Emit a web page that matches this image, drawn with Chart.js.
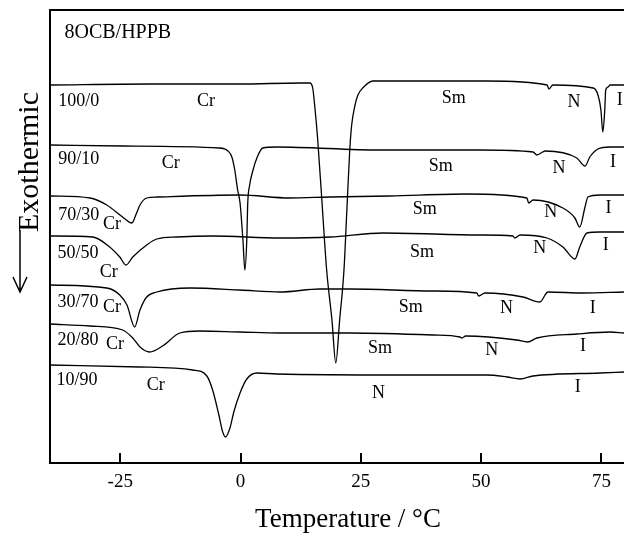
<!DOCTYPE html>
<html>
<head>
<meta charset="utf-8">
<script src="https://cdn.jsdelivr.net/npm/chart.js@4.4.0/dist/chart.umd.min.js"></script>
<style>
  html, body { margin: 0; padding: 0; background: #fff; }
  #wrap { width: 624px; height: 533px; }
</style>
</head>
<body>
<div id="wrap"><canvas id="dsc" width="624" height="533"></canvas></div>
<script>
// DSC heating traces, 8OCB/HPPB mixtures (temperature in degC, signal in arbitrary units, offset per curve)
const tickValues = [-25, 0, 25, 50, 75];

const t100_0 = [-39.6, -18.9, -0.1, 12.3, 14.4, 15.0, 15.4, 16.0, 16.9, 17.9, 19.0, 19.8, 20.6, 21.5, 22.1, 22.7, 23.1, 23.8, 24.4, 25.4, 27.5, 33.1, 51.2, 63.7, 64.1, 64.9, 73.3, 74.3, 74.9, 75.3, 75.7, 75.9, 76.4, 76.8, 79.7];
const s100_0 = [378, 379, 379, 380, 380, 375, 358, 326, 263, 193, 143, 100, 143, 193, 253, 313, 338, 358, 368, 375, 382, 382, 382, 378, 374, 378, 375, 368, 353, 331, 353, 373, 376, 378, 378];

const t90_10 = [-39.6, -24.5, -4.3, -2.6, -1.8, -1.2, -0.6, -0.1, 0.5, 0.9, 1.3, 1.5, 1.9, 2.6, 3.4, 4.6, 7.5, 29.0, 49.8, 60.8, 61.6, 62.8, 63.3, 69.9, 71.6, 72.6, 74.3, 76.8, 79.7];
const s90_10 = [318, 317, 315, 312, 306, 293, 273, 260, 223, 193, 223, 260, 278, 293, 305, 315, 316, 313, 313, 311, 308, 311, 312, 305, 297, 306, 314, 316, 316];

const t70_30 = [-39.6, -31.3, -27.8, -24.5, -22.6, -21.6, -20.9, -19.5, -17.4, -0.1, 10.2, 18.6, 31.0, 47.0, 59.5, 59.9, 60.8, 67.0, 69.5, 70.5, 71.6, 72.2, 74.7, 79.7];
const s70_30 = [267, 265, 258, 246, 240, 250, 258, 265, 266, 268, 265, 266, 267, 269, 265, 260, 263, 255, 245, 236, 256, 266, 268, 268];

const t50_50 = [-39.6, -30.7, -27.2, -25.1, -23.8, -22.4, -19.5, -17.4, -13.2, -5.8, 8.2, 18.6, 29.6, 49.8, 56.6, 57.0, 58.1, 63.7, 67.0, 69.5, 70.5, 72.0, 74.7, 79.7];
const s50_50 = [227, 226, 216, 206, 198, 206, 218, 224, 226, 227, 225, 226, 230, 228, 227, 225, 228, 225, 216, 204, 216, 230, 231, 231];

const t30_70 = [-39.6, -27.8, -25.1, -23.6, -22.0, -20.9, -19.5, -17.4, -10.5, -0.1, 8.2, 16.5, 22.7, 40.0, 49.1, 49.5, 50.8, 58.7, 62.2, 63.9, 71.2, 79.7];
const s30_70 = [178, 175, 168, 158, 136, 153, 166, 171, 175, 173, 171, 174, 174, 172, 170, 167, 170, 166, 161, 171, 170, 171];

const t20_80 = [-39.6, -31.3, -24.5, -22.4, -20.9, -18.9, -16.2, -12.6, -8.5, -0.1, 8.2, 22.7, 40.0, 45.6, 46.0, 46.8, 57.4, 59.7, 61.6, 69.9, 76.8, 79.7];
const s20_80 = [139, 137, 133, 125, 116, 111, 117, 130, 132, 131, 130, 130, 128, 126, 125, 127, 123, 121, 125, 129, 131, 130];

const t10_90 = [-39.6, -20.9, -9.9, -7.0, -5.8, -4.5, -3.7, -3.1, -2.2, -1.4, -0.1, 1.3, 3.4, 7.5, 33.1, 51.2, 55.4, 58.1, 60.8, 74.7, 79.7];
const s10_90 = [98, 96, 93, 87, 73, 48, 31, 26, 35, 51, 70, 84, 90, 89, 88, 88, 86, 84, 87, 90, 91];

// phase labels: text, temperature, signal
const labelText = ["8OCB/HPPB",
  "100/0", "90/10", "70/30", "50/50", "30/70", "20/80", "10/90",
  "Cr", "Cr", "Cr", "Cr", "Cr", "Cr", "Cr",
  "Sm", "Sm", "Sm", "Sm", "Sm", "Sm",
  "N", "N", "N", "N", "N", "N", "N",
  "I", "I", "I", "I", "I", "I", "I"];
const labelT = [-25.5,
  -33.6, -33.6, -33.6, -33.8, -33.8, -33.8, -34.0,
  -7.2, -14.5, -26.7, -27.4, -26.7, -26.1, -17.6,
  44.3, 41.6, 38.3, 37.7, 35.4, 29.0,
  69.3, 66.2, 64.5, 62.2, 55.3, 52.2, 28.7,
  78.8, 77.4, 76.5, 75.9, 73.2, 71.2, 70.1];
const labelS = [430,
  362, 304, 248, 210, 161, 123, 83,
  362, 300, 239, 191, 156, 119, 78,
  365, 297, 254, 211, 156, 115,
  361, 295, 251, 215, 155, 113, 70,
  363, 301, 255, 218, 155, 117, 76];

const serif = "'Liberation Serif', 'DejaVu Serif', serif";

function trace(ts, ss) {
  return {
    data: ts.map((t, i) => ({ x: t, y: ss[i] })),
    borderColor: "#000",
    borderWidth: 1.3,
    pointRadius: 0,
    fill: false,
    cubicInterpolationMode: "monotone"
  };
}

const framePlugin = {
  id: "frame",
  afterDraw(chart) {
    const ctx = chart.ctx;
    const a = chart.chartArea;
    const xs = chart.scales.x;
    const ys = chart.scales.y;
    ctx.save();
    ctx.strokeStyle = "#000";
    ctx.lineWidth = 2;
    ctx.beginPath();
    ctx.moveTo(a.left, a.bottom);
    ctx.lineTo(a.left, a.top);
    ctx.lineTo(a.right, a.top);
    ctx.stroke();
    // inward tick marks
    tickValues.forEach(v => {
      const px = Math.round(xs.getPixelForValue(v));
      ctx.beginPath();
      ctx.moveTo(px, a.bottom);
      ctx.lineTo(px, a.bottom - 10);
      ctx.stroke();
    });

    // phase and composition labels
    ctx.fillStyle = "#000";
    ctx.textAlign = "center";
    ctx.textBaseline = "middle";
    labelText.forEach((txt, i) => {
      ctx.font = (i === 0 ? "20px " : "18px ") + serif;
      ctx.fillText(txt, xs.getPixelForValue(labelT[i]), ys.getPixelForValue(labelS[i]));
    });

    // x axis caption
    ctx.textBaseline = "alphabetic";
    ctx.font = "27px " + serif;
    ctx.fillText("Temperature / °C", 348, 527);

    // y axis caption with arrow
    ctx.textBaseline = "middle";
    ctx.save();
    ctx.translate(30, 162);
    ctx.rotate(-Math.PI / 2);
    ctx.font = "30px " + serif;
    ctx.fillText("Exothermic", 0, 0);
    ctx.restore();
    ctx.lineWidth = 1.5;
    ctx.beginPath();
    ctx.moveTo(20, 230);
    ctx.lineTo(20, 292);
    ctx.moveTo(13, 277);
    ctx.lineTo(20, 292);
    ctx.lineTo(27, 277);
    ctx.stroke();
    ctx.restore();
  }
};

new Chart(document.getElementById("dsc"), {
  type: "line",
  data: {
    datasets: [
      trace(t100_0, s100_0),
      trace(t90_10, s90_10),
      trace(t70_30, s70_30),
      trace(t50_50, s50_50),
      trace(t30_70, s30_70),
      trace(t20_80, s20_80),
      trace(t10_90, s10_90)
    ]
  },
  options: {
    responsive: false,
    animation: false,
    layout: { padding: { left: 50, top: 10, right: 0, bottom: 0 } },
    plugins: { legend: { display: false }, tooltip: { enabled: false } },
    scales: {
      x: {
        type: "linear",
        min: -39.6,
        max: 79.7,
        afterBuildTicks: (scale) => { scale.ticks = tickValues.map(v => ({ value: v })); },
        afterFit: (scale) => { scale.height = 70; },
        grid: { display: false, drawTicks: false },
        border: { display: true, color: "#000", width: 2 },
        ticks: { color: "#000", padding: 8, font: { family: serif, size: 19 } },
        title: { display: false }
      },
      y: {
        type: "linear",
        display: false,
        min: 0,
        max: 453
      }
    }
  },
  plugins: [framePlugin]
});
</script>
</body>
</html>
